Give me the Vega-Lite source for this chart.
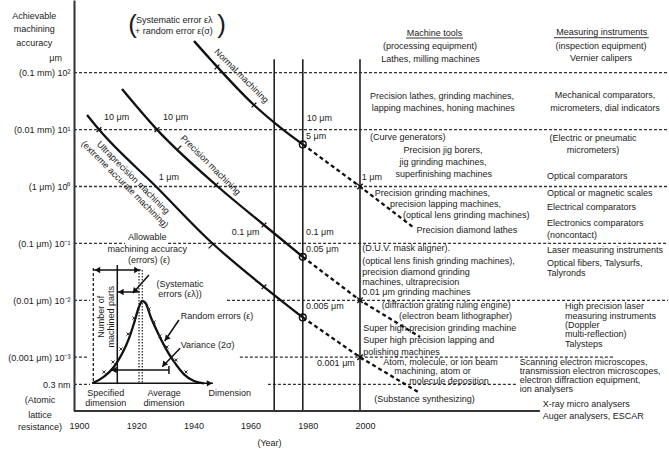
{
  "$schema": "https://vega.github.io/schema/vega-lite/v6.json",
  "width": 594,
  "height": 411,
  "autosize": {"type": "none"},
  "padding": {"left": 74, "top": 0, "right": 1, "bottom": 39},
  "background": "white",
  "config": {
    "font": "Liberation Sans",
    "view": {"stroke": null},
    "axis": {"labelFont": "Liberation Sans", "titleFont": "Liberation Sans", "labelColor": "#1a1a1a", "titleColor": "#1a1a1a"}
  },
  "datasets": {
    "grid": [
      {"y": 100, "x": 1900, "x2": 2107.7},
      {"y": 10, "x": 1900, "x2": 2107.7},
      {"y": 1, "x": 1900, "x2": 2107.7},
      {"y": 0.1, "x": 1900, "x2": 1917.8},
      {"y": 0.1, "x": 1932.9, "x2": 2107.7},
      {"y": 0.01, "x": 1900, "x2": 1905.6},
      {"y": 0.01, "x": 1953.5, "x2": 2107.7},
      {"y": 0.001, "x": 1900, "x2": 1904.9},
      {"y": 0.001, "x": 1958.0, "x2": 2088.5},
      {"y": 0.000334, "x": 1900, "x2": 1905.6},
      {"y": 0.000334, "x": 1967.8, "x2": 2055.2}
    ],
    "vlines": [
      {"x": 1970, "y": 172, "y2": 0.0001134},
      {"x": 1980, "y": 172, "y2": 0.0001134},
      {"x": 2000, "y": 172, "y2": 0.0001134}
    ],
    "base": [{"x": 1900, "x2": 2062.9, "y": 0.0001134}],
    "underline": [
      {"x": 2016.1, "x2": 2036.0, "y": 407.2},
      {"x": 2067.8, "x2": 2101.0, "y": 412.2}
    ],
    "solid": [
      {"s": "Normal", "x": 1941.96, "y": 360.6},
      {"s": "Normal", "x": 1947.9, "y": 167.2},
      {"s": "Normal", "x": 1962.94, "y": 27.06},
      {"s": "Normal", "x": 1973.08, "y": 10.0},
      {"s": "Normal", "x": 1980, "y": 5.5},
      {"s": "Precision", "x": 1916.78, "y": 51.7},
      {"s": "Precision", "x": 1929.02, "y": 10.0},
      {"s": "Precision", "x": 1949.65, "y": 1.063},
      {"s": "Precision", "x": 1966.43, "y": 0.2106},
      {"s": "Precision", "x": 1980, "y": 0.058},
      {"s": "Ultra", "x": 1904.55, "y": 18.06},
      {"s": "Ultra", "x": 1908.74, "y": 10.0},
      {"s": "Ultra", "x": 1928.67, "y": 1.0},
      {"s": "Ultra", "x": 1947.9, "y": 0.1058},
      {"s": "Ultra", "x": 1966.43, "y": 0.01727},
      {"s": "Ultra", "x": 1980, "y": 0.005},
      {"s": "bell", "x": 1906.4, "y": 0.0003477},
      {"s": "bell", "x": 1910.49, "y": 0.0004543},
      {"s": "bell", "x": 1913.99, "y": 0.000681},
      {"s": "bell", "x": 1916.89, "y": 0.001171},
      {"s": "bell", "x": 1919.23, "y": 0.002149},
      {"s": "bell", "x": 1920.98, "y": 0.003943},
      {"s": "bell", "x": 1922.73, "y": 0.007718},
      {"s": "bell", "x": 1923.88, "y": 0.00972},
      {"s": "bell", "x": 1925.07, "y": 0.008856},
      {"s": "bell", "x": 1926.8, "y": 0.005149},
      {"s": "bell", "x": 1929.13, "y": 0.002807},
      {"s": "bell", "x": 1932.06, "y": 0.001433},
      {"s": "bell", "x": 1934.97, "y": 0.0008333},
      {"s": "bell", "x": 1938.46, "y": 0.0005006},
      {"s": "bell", "x": 1941.96, "y": 0.0003817},
      {"s": "bell", "x": 1945.45, "y": 0.0003477}
    ],
    "dashed": [
      {"s": "Normal", "x": 1980, "y": 5.5},
      {"s": "Normal", "x": 2000, "y": 1.0},
      {"s": "Normal", "x": 2018.5, "y": 0.194},
      {"s": "Precision", "x": 1980, "y": 0.058},
      {"s": "Precision", "x": 2000, "y": 0.01},
      {"s": "Precision", "x": 2021.0, "y": 0.00227},
      {"s": "Ultra", "x": 1980, "y": 0.005},
      {"s": "Ultra", "x": 2000, "y": 0.001},
      {"s": "Ultra", "x": 2020.3, "y": 0.000245}
    ],
    "circles": [
      {"x": 1980, "y": 5.5},
      {"x": 1980, "y": 0.058},
      {"x": 1980, "y": 0.005}
    ],
    "xmarks": [
      {"x": 2000, "y": 1.0},
      {"x": 2000, "y": 0.01},
      {"x": 2000, "y": 0.001}
    ],
    "ticks": [
      {"x": 1950.0, "y": 126},
      {"x": 1962.94, "y": 27.06},
      {"x": 1929.02, "y": 10.0},
      {"x": 1936.71, "y": 4.75},
      {"x": 1949.65, "y": 1.063},
      {"x": 1966.43, "y": 0.2106},
      {"x": 1908.74, "y": 10.0},
      {"x": 1947.9, "y": 0.09},
      {"x": 1966.43, "y": 0.01727}
    ],
    "bellmarks": [
      {"x": 1910.49, "y": 0.0005494},
      {"x": 1913.64, "y": 0.0008233},
      {"x": 1916.43, "y": 0.001393},
      {"x": 1918.88, "y": 0.002557},
      {"x": 1920.98, "y": 0.004885},
      {"x": 1926.22, "y": 0.007034},
      {"x": 1927.97, "y": 0.004155},
      {"x": 1930.07, "y": 0.002359},
      {"x": 1932.52, "y": 0.001511},
      {"x": 1935.66, "y": 0.0008928},
      {"x": 1939.16, "y": 0.0005494}
    ],
    "seg": [
      {"x": 1915.14, "y": 0.04174, "x2": 1915.14, "y2": 0.0003477},
      {"x": 1906.99, "y": 0.03408, "x2": 1923.3, "y2": 0.03408},
      {"x": 1915.14, "y": 0.014, "x2": 1923.0, "y2": 0.014},
      {"x": 1926.2, "y": 0.02784, "x2": 1920.6, "y2": 0.01344},
      {"x": 1936.7, "y": 0.004506, "x2": 1931.7, "y2": 0.001926},
      {"x": 1937.1, "y": 0.001433, "x2": 1930.9, "y2": 0.000681},
      {"x": 1912.8, "y": 0.0005957, "x2": 1933.2, "y2": 0.0005957},
      {"x": 1933.2, "y": 0.0007004, "x2": 1933.2, "y2": 0.0005068},
      {"x": 1906.4, "y": 0.0003477, "x2": 1948.6, "y2": 0.0003477}
    ],
    "segdash": [
      {"x": 1906.75, "y": 0.03696, "x2": 1906.75, "y2": 0.0003477}
    ],
    "segdot": [
      {"x": 1922.73, "y": 0.03408, "x2": 1922.73, "y2": 0.0003477},
      {"x": 1923.88, "y": 0.03408, "x2": 1923.88, "y2": 0.0003477}
    ],
    "arrL": [
      {"x": 1908.2, "y": 0.03408},
      {"x": 1916.4, "y": 0.014},
      {"x": 1914.0, "y": 0.0005957}
    ],
    "arrR": [
      {"x": 1922.0, "y": 0.03408},
      {"x": 1947.4, "y": 0.0003477}
    ],
    "arrD": [
      {"x": 1921.15, "y": 0.01457},
      {"x": 1932.34, "y": 0.002131},
      {"x": 1931.47, "y": 0.0007441}
    ],
    "textLeft": [
      {"x": 2003.5, "y": 38.95, "t": "Precision lathes, grinding machines,"},
      {"x": 2004.1, "y": 23.96, "t": "lapping machines, honing machines"},
      {"x": 2003.5, "y": 7.41, "t": "(Curve generators)"},
      {"x": 2065.4, "y": 1.529, "t": "Optical comparators"},
      {"x": 2005.2, "y": 0.778, "t": "Precision grinding machines,"},
      {"x": 2010.5, "y": 0.4925, "t": "precision lapping machines,"},
      {"x": 2015.0, "y": 0.3155, "t": "(optical lens grinding machines)"},
      {"x": 2019.8, "y": 0.1754, "t": "Precision diamond lathes"},
      {"x": 2065.4, "y": 0.778, "t": "Optical or magnetic scales"},
      {"x": 2065.4, "y": 0.4309, "t": "Electrical comparators"},
      {"x": 2065.4, "y": 0.2311, "t": "Electronics comparators"},
      {"x": 2065.4, "y": 0.1405, "t": "(noncontact)"},
      {"x": 2000.8, "y": 0.082, "t": "(D.U.V. mask aligner)."},
      {"x": 2000.8, "y": 0.04966, "t": "(optical lens finish grinding machines),"},
      {"x": 2000.8, "y": 0.03181, "t": "precision diamond grinding"},
      {"x": 2000.8, "y": 0.02123, "t": "machines, ultraprecision"},
      {"x": 2000.8, "y": 0.01416, "t": "0.01 μm grinding machines"},
      {"x": 2065.4, "y": 0.07656, "t": "Laser measuring instruments"},
      {"x": 2065.4, "y": 0.04579, "t": "Optical fibers, Talysurfs,"},
      {"x": 2065.4, "y": 0.02981, "t": "Talyronds"},
      {"x": 2007.6, "y": 0.008269, "t": "(diffraction grating ruling engine)"},
      {"x": 2013.6, "y": 0.005298, "t": "(electron beam lithographer)"},
      {"x": 2001.15, "y": 0.003259, "t": "Super high precision grinding machine"},
      {"x": 2001.15, "y": 0.002006, "t": "Super high precision lapping and"},
      {"x": 2001.15, "y": 0.001249, "t": "polishing machines"},
      {"x": 2071.7, "y": 0.007939, "t": "High precision laser"},
      {"x": 2071.7, "y": 0.005298, "t": "measuring instruments"},
      {"x": 2071.7, "y": 0.003681, "t": "(Doppler"},
      {"x": 2071.7, "y": 0.002527, "t": "multi-reflection)"},
      {"x": 2071.7, "y": 0.001685, "t": "Talysteps"},
      {"x": 2008.15, "y": 0.000823, "t": "Atom, molecule, or ion beam"},
      {"x": 2012.0, "y": 0.000572, "t": "machining, atom or"},
      {"x": 2017.2, "y": 0.0003895, "t": "molecule deposition"},
      {"x": 2055.9, "y": 0.0008135, "t": "Scanning electron microscopes,"},
      {"x": 2055.9, "y": 0.0005652, "t": "transmission electron microscopes,"},
      {"x": 2055.9, "y": 0.0003974, "t": "electron diffraction equipment,"},
      {"x": 2055.9, "y": 0.0002761, "t": "ion analysers"},
      {"x": 2005.0, "y": 0.000182, "t": "(Substance synthesizing)"},
      {"x": 2063.9, "y": 0.0001505, "t": "X-ray micro analysers"},
      {"x": 2063.9, "y": 0.0000937, "t": "Auger analysers, ESCAR"},
      {"x": 1981.4, "y": 16.0, "t": "10 μm"},
      {"x": 1981.1, "y": 7.72, "t": "5 μm"},
      {"x": 2000.6, "y": 1.487, "t": "1 μm"},
      {"x": 1981.1, "y": 0.1605, "t": "0.1 μm"},
      {"x": 1981.1, "y": 0.0797, "t": "0.05 μm"},
      {"x": 1981.1, "y": 0.00794, "t": "0.005 μm"},
      {"x": 1937.3, "y": 0.005362, "t": "Random errors (ε)"},
      {"x": 1937.3, "y": 0.001638, "t": "Variance (2σ)"},
      {"x": 1921.7, "y": 843.7, "t": "Systematic error ελ"},
      {"x": 1921.3, "y": 547.1, "t": "+ random error ε(σ)"}
    ],
    "textCenter": [
      {"x": 1886.1, "y": 992, "t": "Achievable"},
      {"x": 1886.1, "y": 579, "t": "machining"},
      {"x": 1886.1, "y": 336.7, "t": "accuracy"},
      {"x": 1893.6, "y": 179.2, "t": "μm"},
      {"x": 1888.1, "y": 0.000177, "t": "(Atomic"},
      {"x": 1888.1, "y": 0.0000964, "t": "lattice"},
      {"x": 1888.1, "y": 0.0000593, "t": "resistance)"},
      {"x": 2026.05, "y": 492.5, "t": "Machine tools"},
      {"x": 2024.5, "y": 294.6, "t": "(processing equipment)"},
      {"x": 2024.65, "y": 176.2, "t": "Lathes, milling machines"},
      {"x": 2084.5, "y": 512.9, "t": "Measuring instruments"},
      {"x": 2084.3, "y": 294.6, "t": "(inspection equipment)"},
      {"x": 2084.3, "y": 181.3, "t": "Vernier calipers"},
      {"x": 2085.7, "y": 40.55, "t": "Mechanical comparators,"},
      {"x": 2085.7, "y": 24.45, "t": "micrometers, dial indicators"},
      {"x": 2029.0, "y": 4.38, "t": "Precision jig borers,"},
      {"x": 2029.0, "y": 2.696, "t": "jig grinding machines,"},
      {"x": 2029.3, "y": 1.658, "t": "superfinishing machines"},
      {"x": 2081.5, "y": 7.118, "t": "(Electric or pneumatic"},
      {"x": 2081.5, "y": 4.38, "t": "micrometers)"},
      {"x": 1914.9, "y": 16.45, "t": "10 μm"},
      {"x": 1935.5, "y": 16.45, "t": "10 μm"},
      {"x": 1933.2, "y": 1.451, "t": "1 μm"},
      {"x": 1960.0, "y": 0.1567, "t": "0.1 μm"},
      {"x": 1991.6, "y": 0.00079, "t": "0.001 μm"},
      {"x": 1925.6, "y": 0.1312, "t": "Allowable"},
      {"x": 1925.6, "y": 0.0797, "t": "machining accuracy"},
      {"x": 1926.2, "y": 0.0511, "t": "(errors) (ε)"},
      {"x": 1937.1, "y": 0.0191, "t": "(Systematic"},
      {"x": 1937.1, "y": 0.01275, "t": "errors (ελ))"},
      {"x": 1911.1, "y": 0.000232, "t": "Specified"},
      {"x": 1911.1, "y": 0.0001548, "t": "dimension"},
      {"x": 1931.5, "y": 0.000232, "t": "Average"},
      {"x": 1931.5, "y": 0.0001548, "t": "dimension"},
      {"x": 1954.5, "y": 0.000235, "t": "Dimension"}
    ],
    "textRot45": [
      {"x": 1958.6, "y": 88.2, "t": "Normal machining"},
      {"x": 1947.8, "y": 2.388, "t": "Precision machining"},
      {"x": 1920.7, "y": 1.439, "t": "Ultraprecision machining"},
      {"x": 1917.8, "y": 1.098, "t": "(extreme accurate machining)"}
    ],
    "textRot270": [
      {"x": 1909.4, "y": 0.005149, "t": "Number of"},
      {"x": 1912.9, "y": 0.005149, "t": "machined parts"}
    ],
    "parens": [
      {"x": 1920.5, "y": 689, "t": "("},
      {"x": 1951.6, "y": 689, "t": ")"}
    ]
  },
  "encoding": {
    "x": {
      "field": "x",
      "type": "quantitative",
      "scale": {"domain": [1900, 2107.7], "nice": false, "zero": false},
      "axis": {
        "values": [1900, 1920, 1940, 1960, 1980, 2000],
        "format": "d",
        "domain": false,
        "ticks": false,
        "grid": false,
        "labelPadding": 10,
        "labelOffset": 5,
        "labelFontSize": 9,
        "labelFlush": false,
        "labelOverlap": false,
        "title": "(Year)",
        "titleFontSize": 9,
        "titleFontWeight": "normal",
        "titleX": 195,
        "titleY": 31,
        "titleBaseline": "middle"
      }
    },
    "y": {
      "field": "y",
      "type": "quantitative",
      "scale": {"type": "log", "domain": [0.0001134, 1895.7], "nice": false},
      "axis": {
        "values": [100, 10, 1, 0.1, 0.01, 0.001, 0.000334],
        "labelExpr": "datum.value > 50 ? '(0.1 mm) 10²' : datum.value > 5 ? '(0.01 mm) 10¹' : datum.value > 0.5 ? '(1 μm) 10⁰' : datum.value > 0.05 ? '(0.1 μm) 10⁻¹' : datum.value > 0.005 ? '(0.01 μm) 10⁻²' : datum.value > 0.0005 ? '(0.001 μm) 10⁻³' : '0.3 nm'",
        "domain": true,
        "domainColor": "#333",
        "domainWidth": 2,
        "ticks": false,
        "grid": false,
        "labelPadding": 4,
        "labelFontSize": 9,
        "labelFlush": false,
        "labelOverlap": false,
        "title": null
      }
    }
  },
  "layer": [
    {"data": {"name": "grid"}, "mark": {"type": "rule", "strokeDash": [3, 2], "strokeWidth": 1.3, "color": "#333"}, "encoding": {"x2": {"field": "x2"}}},
    {"data": {"name": "vlines"}, "mark": {"type": "rule", "strokeWidth": 1.6, "color": "#222"}, "encoding": {"y2": {"field": "y2"}}},
    {"data": {"name": "base"}, "mark": {"type": "rule", "strokeWidth": 2, "color": "#333"}, "encoding": {"x2": {"field": "x2"}}},
    {"data": {"name": "underline"}, "mark": {"type": "rule", "strokeWidth": 1, "color": "#333"}, "encoding": {"x2": {"field": "x2"}}},
    {"data": {"name": "solid"}, "mark": {"type": "line", "strokeWidth": 2.3, "color": "#111", "interpolate": "monotone"}, "encoding": {"detail": {"field": "s"}}},
    {"data": {"name": "dashed"}, "mark": {"type": "line", "strokeWidth": 2.3, "strokeDash": [4, 3], "color": "#111"}, "encoding": {"detail": {"field": "s"}}},
    {"data": {"name": "circles"}, "mark": {"type": "point", "shape": "circle", "size": 45, "filled": false, "color": "#111", "strokeWidth": 1.5, "opacity": 1}},
    {"data": {"name": "xmarks"}, "mark": {"type": "point", "shape": "M-1,-1L1,1M-1,1L1,-1", "size": 30, "filled": false, "color": "#111", "strokeWidth": 1.4, "opacity": 1}},
    {"data": {"name": "ticks"}, "mark": {"type": "point", "shape": "M-1,1L1,-1", "size": 22, "filled": false, "color": "#111", "strokeWidth": 1.3, "opacity": 1}},
    {"data": {"name": "bellmarks"}, "mark": {"type": "point", "shape": "M-1,-1L1,1M-1,1L1,-1", "size": 10, "filled": false, "color": "#333", "strokeWidth": 1, "opacity": 1}},
    {"data": {"name": "seg"}, "mark": {"type": "rule", "strokeWidth": 1.5, "color": "#111"}, "encoding": {"x2": {"field": "x2"}, "y2": {"field": "y2"}}},
    {"data": {"name": "segdash"}, "mark": {"type": "rule", "strokeWidth": 1.3, "strokeDash": [3, 2], "color": "#222"}, "encoding": {"x2": {"field": "x2"}, "y2": {"field": "y2"}}},
    {"data": {"name": "segdot"}, "mark": {"type": "rule", "strokeWidth": 1.2, "strokeDash": [1.5, 1.5], "color": "#222"}, "encoding": {"x2": {"field": "x2"}, "y2": {"field": "y2"}}},
    {"data": {"name": "arrL"}, "mark": {"type": "point", "shape": "triangle-left", "size": 40, "filled": true, "color": "#111", "opacity": 1}},
    {"data": {"name": "arrR"}, "mark": {"type": "point", "shape": "triangle-right", "size": 40, "filled": true, "color": "#111", "opacity": 1}},
    {"data": {"name": "arrD"}, "mark": {"type": "point", "shape": "triangle-down", "angle": 40, "size": 40, "filled": true, "color": "#111", "opacity": 1}},
    {"data": {"name": "textLeft"}, "mark": {"type": "text", "align": "left", "baseline": "middle", "fontSize": 9, "color": "#1a1a1a"}, "encoding": {"text": {"field": "t"}}},
    {"data": {"name": "textCenter"}, "mark": {"type": "text", "align": "center", "baseline": "middle", "fontSize": 9, "color": "#1a1a1a"}, "encoding": {"text": {"field": "t"}}},
    {"data": {"name": "textRot45"}, "mark": {"type": "text", "align": "center", "baseline": "middle", "fontSize": 9, "angle": 45, "color": "#1a1a1a"}, "encoding": {"text": {"field": "t"}}},
    {"data": {"name": "textRot270"}, "mark": {"type": "text", "align": "center", "baseline": "middle", "fontSize": 9, "angle": 270, "color": "#1a1a1a"}, "encoding": {"text": {"field": "t"}}},
    {"data": {"name": "parens"}, "mark": {"type": "text", "align": "center", "baseline": "middle", "fontSize": 26, "color": "#1a1a1a"}, "encoding": {"text": {"field": "t"}}}
  ]
}
